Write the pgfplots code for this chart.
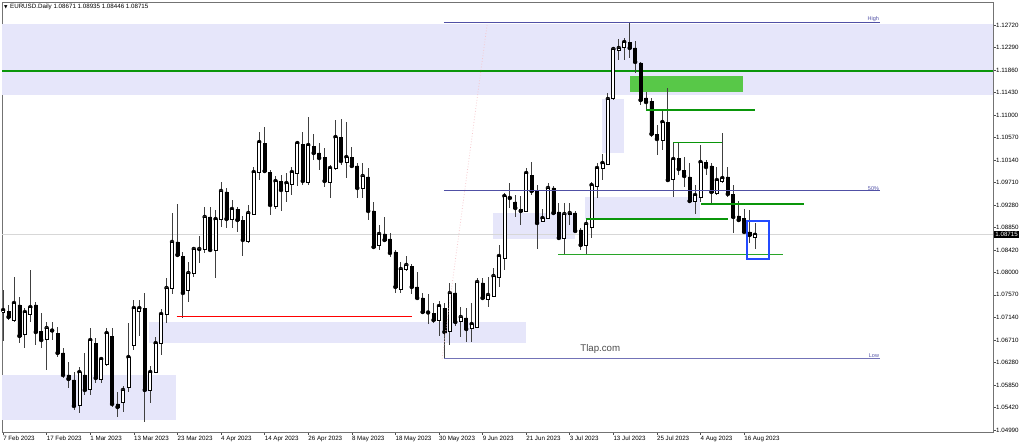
\documentclass[border=0pt]{standalone}
\usepackage{pgfplots}
\pgfplotsset{compat=1.18}
\usepackage{pgfplotstable}
\usepackage{fontspec}
\setmainfont{Liberation Sans}
\newfontfamily\dejavu{DejaVu Sans}
\newcommand\tickfont{\fontsize{6.2}{7}\selectfont}

\definecolor{zone}{RGB}{230,230,250}
\definecolor{boxgreen}{RGB}{88,200,72}
\definecolor{lvlgreen}{RGB}{10,150,10}
\definecolor{lowgreen}{RGB}{40,165,40}
\definecolor{fibo}{RGB}{80,80,165}
\definecolor{pricegray}{RGB}{215,215,215}
\definecolor{markblue}{RGB}{35,75,255}
\definecolor{trendpink}{RGB}{245,200,205}

\pgfplotsset{
  base/.style={
    at={(2pt,14pt)}, anchor=south west,
    scale only axis, width=991pt, height=430pt,
    xmin=-0.2, xmax=181.68, ymin=1.04952, ymax=1.13159,
    enlargelimits=false,
  },
}

% daily EURUSD candles, i = trading day from 7 Feb 2023
\pgfplotstableread{
i o h l c
0 1.07242 1.07663 1.06688 1.07280
1 1.07261 1.07376 1.07089 1.07147
2 1.07089 1.07911 1.07051 1.07414
3 1.07376 1.07529 1.06650 1.06784
4 1.06822 1.07318 1.06555 1.07242
5 1.07204 1.08044 1.07051 1.07337
6 1.07376 1.07433 1.06612 1.06860
7 1.06879 1.07223 1.06555 1.06707
8 1.06726 1.07051 1.06135 1.06937
9 1.06879 1.07051 1.06707 1.06889
10 1.06841 1.06956 1.06383 1.06460
11 1.06460 1.06555 1.05983 1.06040
12 1.06040 1.06288 1.05792 1.05964
13 1.05945 1.06097 1.05372 1.05449
14 1.05468 1.06193 1.05315 1.06097
15 1.06040 1.06460 1.05658 1.05754
16 1.05773 1.06937 1.05658 1.06707
17 1.06650 1.06745 1.05887 1.05983
18 1.05964 1.06383 1.05887 1.06345
19 1.06250 1.06937 1.06212 1.06841
20 1.06784 1.06937 1.05429 1.05487
21 1.05487 1.05716 1.05238 1.05429
22 1.05525 1.05830 1.05334 1.05754
23 1.05811 1.07032 1.05716 1.06383
24 1.06612 1.07471 1.06517 1.07318
25 1.07261 1.07471 1.06784 1.07318
26 1.07318 1.07605 1.05143 1.05754
27 1.05754 1.06212 1.05506 1.06097
28 1.06097 1.06765 1.06078 1.06650
29 1.06650 1.07299 1.06421 1.07204
30 1.07204 1.07892 1.07032 1.07701
31 1.07701 1.09132 1.07586 1.08579
32 1.08579 1.09304 1.08292 1.08331
33 1.08311 1.08388 1.07128 1.07605
34 1.07662 1.08197 1.07433 1.07987
35 1.07987 1.08483 1.07911 1.08445
36 1.08436 1.08693 1.08178 1.08445
37 1.08445 1.09246 1.08369 1.09056
38 1.09056 1.09246 1.08388 1.08426
39 1.08426 1.09189 1.07892 1.09017
40 1.09017 1.09723 1.08865 1.09552
41 1.09533 1.09609 1.08846 1.09017
42 1.09017 1.09380 1.08846 1.09208
43 1.09208 1.09246 1.08770 1.08998
44 1.08998 1.09075 1.08311 1.08617
45 1.08598 1.09285 1.08560 1.09132
46 1.09113 1.10010 1.09094 1.09914
47 1.09914 1.10677 1.09761 1.10486
48 1.10467 1.10773 1.09895 1.09933
49 1.09914 1.09952 1.09094 1.09285
50 1.09265 1.09838 1.09208 1.09742
51 1.09742 1.09857 1.09170 1.09571
52 1.09552 1.09895 1.09342 1.09704
53 1.09685 1.10010 1.09475 1.09914
54 1.09895 1.10506 1.09647 1.10467
55 1.10448 1.10677 1.09666 1.09742
56 1.09723 1.10964 1.09666 1.10429
57 1.10410 1.10639 1.10143 1.10277
58 1.10277 1.10467 1.09952 1.10181
59 1.10200 1.10372 1.09628 1.09742
60 1.09723 1.10048 1.09418 1.09990
61 1.09990 1.10906 1.09952 1.10582
62 1.10582 1.10926 1.10048 1.10124
63 1.10105 1.10868 1.09799 1.10200
64 1.10200 1.10391 1.09990 1.10029
65 1.10029 1.10086 1.09418 1.09609
66 1.09609 1.10086 1.09418 1.09838
67 1.09819 1.09990 1.08998 1.09170
68 1.09170 1.09342 1.08464 1.08483
69 1.08521 1.08903 1.08426 1.08731
70 1.08731 1.09056 1.08579 1.08617
71 1.08636 1.08750 1.08292 1.08369
72 1.08388 1.08426 1.07605 1.07720
73 1.07681 1.08197 1.07605 1.08063
74 1.08063 1.08311 1.08025 1.08140
75 1.08120 1.08159 1.07586 1.07720
76 1.07720 1.08006 1.07471 1.07510
77 1.07510 1.07605 1.07223 1.07242
78 1.07242 1.07586 1.07013 1.07233
79 1.07223 1.07414 1.07032 1.07089
80 1.07089 1.07452 1.06784 1.07356
81 1.07318 1.07414 1.06355 1.06860
82 1.06879 1.07796 1.06612 1.07605
83 1.07605 1.07796 1.06975 1.07051
84 1.07070 1.07337 1.06765 1.07147
85 1.07128 1.07318 1.06669 1.06918
86 1.06937 1.07414 1.06669 1.07013
87 1.06956 1.07892 1.06937 1.07815
88 1.07796 1.07892 1.07490 1.07510
89 1.07490 1.07911 1.07337 1.07567
90 1.07548 1.08082 1.07529 1.07930
91 1.07911 1.08521 1.07720 1.08311
92 1.08273 1.09514 1.08044 1.09456
93 1.09437 1.09704 1.09227 1.09418
94 1.09342 1.09475 1.09056 1.09227
95 1.09208 1.09456 1.08903 1.09170
96 1.09170 1.09990 1.09151 1.09895
97 1.09857 1.10105 1.09475 1.09552
98 1.09552 1.09666 1.08445 1.08941
99 1.08979 1.09208 1.08960 1.09036
100 1.09036 1.09704 1.09017 1.09609
101 1.09609 1.09647 1.09094 1.09132
102 1.09151 1.09323 1.08617 1.08655
103 1.08655 1.09323 1.08330 1.09113
104 1.09113 1.09323 1.08903 1.09132
105 1.09132 1.09170 1.08770 1.08789
106 1.08808 1.08846 1.08426 1.08521
107 1.08521 1.09017 1.08350 1.08922
108 1.08865 1.09723 1.08655 1.09666
109 1.09647 1.10086 1.09418 1.09990
110 1.09990 1.10258 1.09761 1.10086
111 1.10067 1.11422 1.10048 1.11308
112 1.11327 1.12300 1.11288 1.12262
113 1.12243 1.12453 1.12052 1.12281
114 1.12300 1.12472 1.12052 1.12395
115 1.12395 1.12768 1.12090 1.12281
116 1.12281 1.12415 1.11804 1.12014
117 1.11995 1.12014 1.11193 1.11288
118 1.11327 1.11441 1.11117 1.11250
119 1.11269 1.11327 1.10582 1.10639
120 1.10639 1.10811 1.10239 1.10544
121 1.10525 1.11098 1.10334 1.10868
122 1.10868 1.11517 1.09723 1.09761
123 1.09781 1.10487 1.09437 1.10162
124 1.10181 1.10467 1.09857 1.09971
125 1.09952 1.10200 1.09628 1.09838
126 1.09819 1.10086 1.09323 1.09361
127 1.09361 1.09666 1.09113 1.09475
128 1.09437 1.10429 1.09342 1.10105
129 1.10105 1.10143 1.09857 1.10010
130 1.10029 1.10086 1.09304 1.09533
131 1.09514 1.10010 1.09475 1.09761
132 1.09742 1.10658 1.09704 1.09799
133 1.09819 1.10010 1.09437 1.09494
134 1.09494 1.09666 1.08750 1.09056
135 1.09075 1.09361 1.08979 1.08998
136 1.09036 1.09208 1.08750 1.08770
137 1.08770 1.09189 1.08560 1.08712
138 1.08671 1.08935 1.08446 1.08715
}\candles

\begin{document}
\begin{tikzpicture}
\path[use as bounding box] (0,0) rectangle (1024pt,446pt);

% background: zones, frame, ticks
\begin{axis}[base,
  axis line style={draw=black!55, line width=0.8pt},
  tick align=outside, major tick length=3pt,
  tick style={black!70, line width=0.6pt},
  xtick pos=left, ytick pos=right, yticklabel pos=right,
  scaled y ticks=false,
  xtick={0,8,...,136},
  xticklabels={7 Feb 2023,17 Feb 2023,1 Mar 2023,13 Mar 2023,23 Mar 2023,4 Apr 2023,14 Apr 2023,26 Apr 2023,8 May 2023,18 May 2023,30 May 2023,9 Jun 2023,21 Jun 2023,3 Jul 2023,13 Jul 2023,25 Jul 2023,4 Aug 2023,16 Aug 2023},
  ytick={1.04990,1.05420,1.05850,1.06280,1.06710,1.07140,1.07570,1.08000,1.08420,1.08850,1.09280,1.09710,1.10140,1.10570,1.11000,1.11430,1.11860,1.12290,1.12720},
  yticklabels={1.04990,1.05420,1.05850,1.06280,1.06710,1.07140,1.07570,1.08000,1.08420,1.08850,1.09280,1.09710,1.10140,1.10570,1.11000,1.11430,1.11860,1.12290,1.12720},
  xticklabel style={font=\tickfont, anchor=north west, inner sep=0pt, yshift=-1pt},
  yticklabel style={font=\tickfont, anchor=west, inner sep=0pt},
]
\addplot[fill=zone, draw=none] coordinates {(-0.2,1.12739) (181.68,1.12739) (181.68,1.11393) (-0.2,1.11393)} -- cycle;
\addplot[fill=zone, draw=none] coordinates {(-0.2,1.06040) (31.74,1.06040) (31.74,1.05181) (-0.2,1.05181)} -- cycle;
\addplot[fill=zone, draw=none] coordinates {(26.87,1.07051) (95.89,1.07051) (95.89,1.06645) (26.87,1.06645)} -- cycle;
\addplot[fill=zone, draw=none] coordinates {(89.92,1.09132) (104.98,1.09132) (104.98,1.08636) (89.92,1.08636)} -- cycle;
\addplot[fill=zone, draw=none] coordinates {(109.88,1.11307) (113.88,1.11307) (113.88,1.10271) (109.88,1.10271)} -- cycle;
\addplot[fill=zone, draw=none] coordinates {(106.81,1.09437) (127.92,1.09437) (127.92,1.09017) (106.81,1.09017)} -- cycle;
\addplot[fill=boxgreen, draw=none] coordinates {(114.98,1.11746) (135.81,1.11746) (135.81,1.11441) (114.98,1.11441)} -- cycle;
\addplot[pricegray, line width=0.9pt] coordinates {(-0.2,1.08715) (181.68,1.08715)};
\end{axis}

% level line and wicks
\begin{axis}[base, hide axis]
\addplot[draw=lvlgreen, line width=1.9pt] coordinates {(-0.2,1.11836) (181.68,1.11836)};
\addplot[only marks, mark=none,
  error bars/.cd, y dir=both, y explicit, error mark=none,
  error bar style={black!75, line width=0.8pt}]
  table[x=i, y=c, y error plus expr=\thisrow{h}-\thisrow{c}, y error minus expr=\thisrow{c}-\thisrow{l}] {\candles};
\end{axis}

% bodies
\begin{axis}[base, hide axis, ybar stacked, bar width=3pt]
\addplot[draw=none, fill=none] table[x=i, y expr={min(\thisrow{o},\thisrow{c})}] {\candles};
\addplot[draw=black, fill=black, line width=0.7pt] table[x=i, y expr={max(\thisrow{o}-\thisrow{c},0)}] {\candles};
\addplot[draw=black, fill=white, line width=0.7pt] table[x=i, y expr={max(\thisrow{c}-\thisrow{o},0)}] {\candles};
\end{axis}

% drawn objects and texts
\begin{axis}[base, hide axis, clip=false]
\addplot[trendpink, dotted, line width=0.8pt] coordinates {(80.57,1.06351) (88.82,1.12720)};
\addplot[fibo, line width=1pt] coordinates {(80.9,1.12768) (160.9,1.12768)};
\addplot[fibo, line width=1pt] coordinates {(80.9,1.09552) (160.9,1.09552)};
\addplot[fibo!80, line width=1.1pt] coordinates {(80.9,1.06351) (160.9,1.06351)};
\addplot[red, line width=1.2pt] coordinates {(31.83,1.07160) (75.0,1.07160)};
\addplot[lvlgreen, line width=1.4pt] coordinates {(118.0,1.11097) (138.0,1.11097)};
\addplot[lvlgreen, line width=1.4pt] coordinates {(123.0,1.10481) (132.0,1.10481)};
\addplot[lvlgreen, line width=1.4pt] coordinates {(128.05,1.09304) (147.0,1.09304)};
\addplot[lvlgreen, line width=1.4pt] coordinates {(107.0,1.09017) (133.06,1.09017)};
\addplot[lowgreen, line width=1.5pt] coordinates {(101.9,1.08340) (143.1,1.08340)};
\addplot[markblue, line width=1.3pt] coordinates {(136.55,1.08979) (140.59,1.08979) (140.59,1.08254) (136.55,1.08254)} -- cycle;
\node[fibo, font=\fontsize{5.5}{6}\selectfont, anchor=south east, inner sep=0.6pt] at (axis cs:160.9,1.12768) {High};
\node[fibo, font=\fontsize{5.5}{6}\selectfont, anchor=south east, inner sep=0.6pt] at (axis cs:160.9,1.09552) {50\%};
\node[fibo, font=\fontsize{5.5}{6}\selectfont, anchor=south east, inner sep=0.6pt] at (axis cs:160.9,1.06351) {Low};
\node[black!70, font=\fontsize{9.7}{11}\selectfont, inner sep=0pt] at (axis cs:109.6,1.06527) {Tlap.com};
\node[anchor=west, font=\tickfont, inner sep=0pt] at (rel axis cs:0,1) [xshift=2pt, yshift=-5pt]
  {{\dejavu\fontsize{4.5}{5}\selectfont ▼}\hspace{2.5pt}EURUSD.Daily 1.08671 1.08935 1.08446 1.08715};
\node[fill=black, text=white, font=\tickfont, inner xsep=1.2pt, inner ysep=1.3pt, anchor=west] at (axis cs:181.68,1.08715) [xshift=1pt] {1.08715};
\end{axis}
\end{tikzpicture}
\end{document}
